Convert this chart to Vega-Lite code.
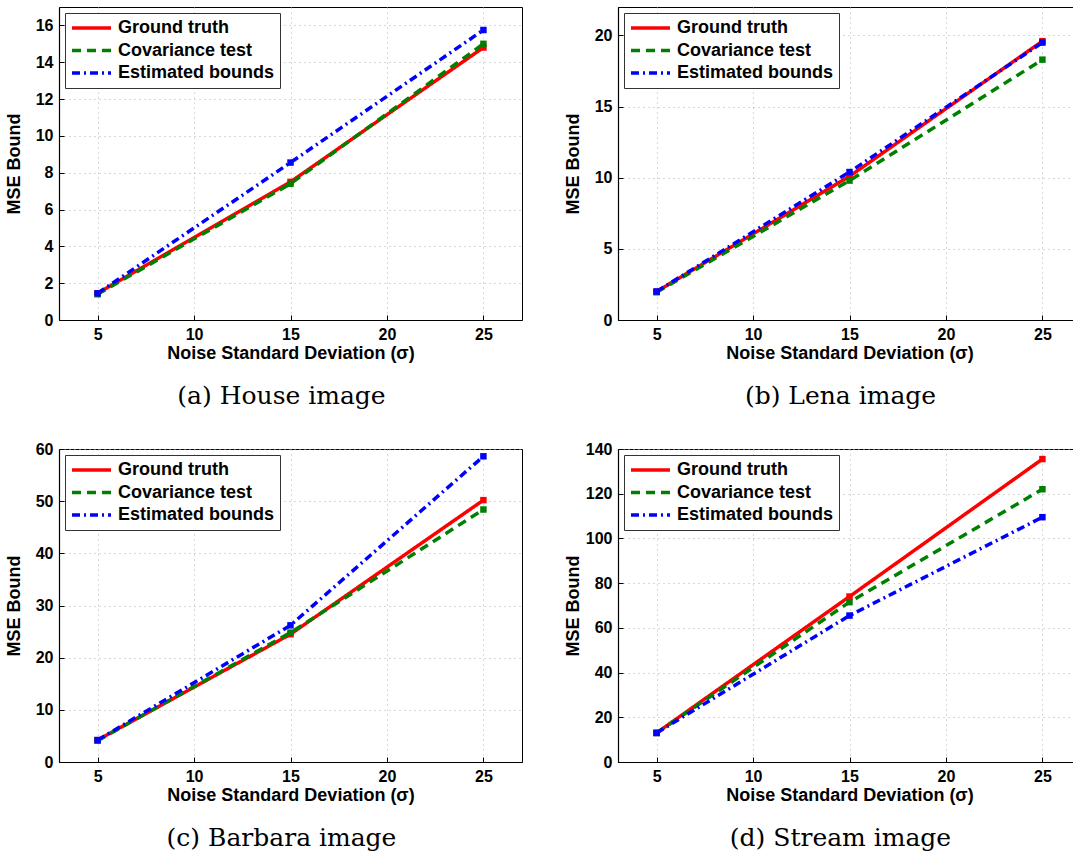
{
  "$schema": "https://vega.github.io/schema/vega-lite/v6.json",
  "padding": {"left": 4, "top": 6, "right": 0, "bottom": 0},
  "background": "white",
  "data": {"values": [
    {"panel": "a", "sigma": 5, "series": "Ground truth", "mse": 1.45},
    {"panel": "a", "sigma": 15, "series": "Ground truth", "mse": 7.5},
    {"panel": "a", "sigma": 25, "series": "Ground truth", "mse": 14.8},
    {"panel": "a", "sigma": 5, "series": "Covariance test", "mse": 1.4},
    {"panel": "a", "sigma": 15, "series": "Covariance test", "mse": 7.4},
    {"panel": "a", "sigma": 25, "series": "Covariance test", "mse": 15.0},
    {"panel": "a", "sigma": 5, "series": "Estimated bounds", "mse": 1.45},
    {"panel": "a", "sigma": 15, "series": "Estimated bounds", "mse": 8.55},
    {"panel": "a", "sigma": 25, "series": "Estimated bounds", "mse": 15.75},
    {"panel": "b", "sigma": 5, "series": "Ground truth", "mse": 2.0},
    {"panel": "b", "sigma": 15, "series": "Ground truth", "mse": 10.1},
    {"panel": "b", "sigma": 25, "series": "Ground truth", "mse": 19.6},
    {"panel": "b", "sigma": 5, "series": "Covariance test", "mse": 1.95},
    {"panel": "b", "sigma": 15, "series": "Covariance test", "mse": 9.8},
    {"panel": "b", "sigma": 25, "series": "Covariance test", "mse": 18.3},
    {"panel": "b", "sigma": 5, "series": "Estimated bounds", "mse": 2.0},
    {"panel": "b", "sigma": 15, "series": "Estimated bounds", "mse": 10.4},
    {"panel": "b", "sigma": 25, "series": "Estimated bounds", "mse": 19.5},
    {"panel": "c", "sigma": 5, "series": "Ground truth", "mse": 4.2},
    {"panel": "c", "sigma": 15, "series": "Ground truth", "mse": 24.5},
    {"panel": "c", "sigma": 25, "series": "Ground truth", "mse": 50.2},
    {"panel": "c", "sigma": 5, "series": "Covariance test", "mse": 4.1},
    {"panel": "c", "sigma": 15, "series": "Covariance test", "mse": 24.8},
    {"panel": "c", "sigma": 25, "series": "Covariance test", "mse": 48.4},
    {"panel": "c", "sigma": 5, "series": "Estimated bounds", "mse": 4.2},
    {"panel": "c", "sigma": 15, "series": "Estimated bounds", "mse": 26.2},
    {"panel": "c", "sigma": 25, "series": "Estimated bounds", "mse": 58.6},
    {"panel": "d", "sigma": 5, "series": "Ground truth", "mse": 13},
    {"panel": "d", "sigma": 15, "series": "Ground truth", "mse": 74},
    {"panel": "d", "sigma": 25, "series": "Ground truth", "mse": 135.5},
    {"panel": "d", "sigma": 5, "series": "Covariance test", "mse": 13},
    {"panel": "d", "sigma": 15, "series": "Covariance test", "mse": 71.5},
    {"panel": "d", "sigma": 25, "series": "Covariance test", "mse": 122},
    {"panel": "d", "sigma": 5, "series": "Estimated bounds", "mse": 13},
    {"panel": "d", "sigma": 15, "series": "Estimated bounds", "mse": 65.5},
    {"panel": "d", "sigma": 25, "series": "Estimated bounds", "mse": 109.5}
  ]},
  "columns": 2,
  "spacing": {"column": 40, "row": 30},
  "resolve": {
    "scale": {"x": "independent", "y": "independent", "color": "independent", "strokeDash": "independent", "fill": "independent"},
    "legend": {"color": "independent", "strokeDash": "independent"}
  },
  "concat": [
    {
      "width": 463, "height": 313,
      "title": {"text": "(a) House image"},
      "transform": [{"filter": "datum.panel === 'a'"}],
      "encoding": {
        "x": {"field": "sigma", "type": "quantitative", "title": "Noise Standard Deviation (σ)", "scale": {"domain": [3, 27], "nice": false}, "axis": {"values": [5, 10, 15, 20, 25]}},
        "y": {"field": "mse", "type": "quantitative", "title": "MSE Bound", "scale": {"domain": [0, 17], "nice": false}, "axis": {"values": [0, 2, 4, 6, 8, 10, 12, 14, 16]}}
      },
      "layer": [
        {"mark": {"type": "line", "strokeWidth": 3.5},
         "encoding": {
           "color": {"field": "series", "type": "nominal", "legend": {"title": null}, "scale": {"domain": ["Ground truth", "Covariance test", "Estimated bounds"], "range": ["#ff0000", "#008000", "#0000ff"]}},
           "strokeDash": {"field": "series", "type": "nominal", "legend": {"title": null}, "scale": {"domain": ["Ground truth", "Covariance test", "Estimated bounds"], "range": [[1, 0], [9, 6], [8, 4, 2, 4]]}}
         }},
        {"mark": {"type": "point", "shape": "square", "filled": true, "size": 42, "opacity": 1, "strokeWidth": 0},
         "encoding": {"fill": {"field": "series", "type": "nominal", "legend": null, "scale": {"domain": ["Ground truth", "Covariance test", "Estimated bounds"], "range": ["#ff0000", "#008000", "#0000ff"]}}}}
      ]
    },
    {
      "width": 463, "height": 313,
      "title": {"text": "(b) Lena image"},
      "transform": [{"filter": "datum.panel === 'b'"}],
      "encoding": {
        "x": {"field": "sigma", "type": "quantitative", "title": "Noise Standard Deviation (σ)", "scale": {"domain": [3, 27], "nice": false}, "axis": {"values": [5, 10, 15, 20, 25]}},
        "y": {"field": "mse", "type": "quantitative", "title": "MSE Bound", "scale": {"domain": [0, 22], "nice": false}, "axis": {"values": [0, 5, 10, 15, 20]}}
      },
      "layer": [
        {"mark": {"type": "line", "strokeWidth": 3.5},
         "encoding": {
           "color": {"field": "series", "type": "nominal", "legend": {"title": null}, "scale": {"domain": ["Ground truth", "Covariance test", "Estimated bounds"], "range": ["#ff0000", "#008000", "#0000ff"]}},
           "strokeDash": {"field": "series", "type": "nominal", "legend": {"title": null}, "scale": {"domain": ["Ground truth", "Covariance test", "Estimated bounds"], "range": [[1, 0], [9, 6], [8, 4, 2, 4]]}}
         }},
        {"mark": {"type": "point", "shape": "square", "filled": true, "size": 42, "opacity": 1, "strokeWidth": 0},
         "encoding": {"fill": {"field": "series", "type": "nominal", "legend": null, "scale": {"domain": ["Ground truth", "Covariance test", "Estimated bounds"], "range": ["#ff0000", "#008000", "#0000ff"]}}}}
      ]
    },
    {
      "width": 463, "height": 313,
      "title": {"text": "(c) Barbara image"},
      "transform": [{"filter": "datum.panel === 'c'"}],
      "encoding": {
        "x": {"field": "sigma", "type": "quantitative", "title": "Noise Standard Deviation (σ)", "scale": {"domain": [3, 27], "nice": false}, "axis": {"values": [5, 10, 15, 20, 25]}},
        "y": {"field": "mse", "type": "quantitative", "title": "MSE Bound", "scale": {"domain": [0, 60], "nice": false}, "axis": {"values": [0, 10, 20, 30, 40, 50, 60]}}
      },
      "layer": [
        {"mark": {"type": "line", "strokeWidth": 3.5},
         "encoding": {
           "color": {"field": "series", "type": "nominal", "legend": {"title": null}, "scale": {"domain": ["Ground truth", "Covariance test", "Estimated bounds"], "range": ["#ff0000", "#008000", "#0000ff"]}},
           "strokeDash": {"field": "series", "type": "nominal", "legend": {"title": null}, "scale": {"domain": ["Ground truth", "Covariance test", "Estimated bounds"], "range": [[1, 0], [9, 6], [8, 4, 2, 4]]}}
         }},
        {"mark": {"type": "point", "shape": "square", "filled": true, "size": 42, "opacity": 1, "strokeWidth": 0},
         "encoding": {"fill": {"field": "series", "type": "nominal", "legend": null, "scale": {"domain": ["Ground truth", "Covariance test", "Estimated bounds"], "range": ["#ff0000", "#008000", "#0000ff"]}}}}
      ]
    },
    {
      "width": 463, "height": 313,
      "title": {"text": "(d) Stream image"},
      "transform": [{"filter": "datum.panel === 'd'"}],
      "encoding": {
        "x": {"field": "sigma", "type": "quantitative", "title": "Noise Standard Deviation (σ)", "scale": {"domain": [3, 27], "nice": false}, "axis": {"values": [5, 10, 15, 20, 25]}},
        "y": {"field": "mse", "type": "quantitative", "title": "MSE Bound", "scale": {"domain": [0, 140], "nice": false}, "axis": {"values": [0, 20, 40, 60, 80, 100, 120, 140]}}
      },
      "layer": [
        {"mark": {"type": "line", "strokeWidth": 3.5},
         "encoding": {
           "color": {"field": "series", "type": "nominal", "legend": {"title": null}, "scale": {"domain": ["Ground truth", "Covariance test", "Estimated bounds"], "range": ["#ff0000", "#008000", "#0000ff"]}},
           "strokeDash": {"field": "series", "type": "nominal", "legend": {"title": null}, "scale": {"domain": ["Ground truth", "Covariance test", "Estimated bounds"], "range": [[1, 0], [9, 6], [8, 4, 2, 4]]}}
         }},
        {"mark": {"type": "point", "shape": "square", "filled": true, "size": 42, "opacity": 1, "strokeWidth": 0},
         "encoding": {"fill": {"field": "series", "type": "nominal", "legend": null, "scale": {"domain": ["Ground truth", "Covariance test", "Estimated bounds"], "range": ["#ff0000", "#008000", "#0000ff"]}}}}
      ]
    }
  ],
  "config": {
    "view": {"stroke": "#000000", "strokeWidth": 1},
    "title": {"orient": "bottom", "anchor": "middle", "font": "DejaVu Serif", "fontSize": 25, "fontWeight": "normal", "color": "#000000", "offset": 22, "dx": -9},
    "axis": {
      "labelFont": "Liberation Sans", "labelFontSize": 16, "labelFontWeight": "bold", "labelColor": "#000000",
      "titleFont": "Liberation Sans", "titleFontSize": 18, "titleFontWeight": "bold", "titleColor": "#000000",
      "domainColor": "#000000", "domainWidth": 1.2,
      "gridColor": "#b0b0b0", "gridDash": [1, 4], "gridWidth": 1,
      "tickColor": "#000000", "tickSize": -5, "labelPadding": 11, "titlePadding": 2
    },
    "axisY": {"minExtent": 34, "maxExtent": 34, "titlePadding": 2},
    "legend": {
      "orient": "top-left", "offset": 6, "padding": 5,
      "strokeColor": "#333333", "fillColor": "#ffffff",
      "symbolType": "stroke", "symbolSize": 1521, "symbolStrokeWidth": 3.5,
      "labelFont": "Liberation Sans", "labelFontSize": 18, "labelFontWeight": "bold", "labelColor": "#000000",
      "labelOffset": 5, "rowPadding": 2.5, "clipHeight": 20
    }
  }
}
